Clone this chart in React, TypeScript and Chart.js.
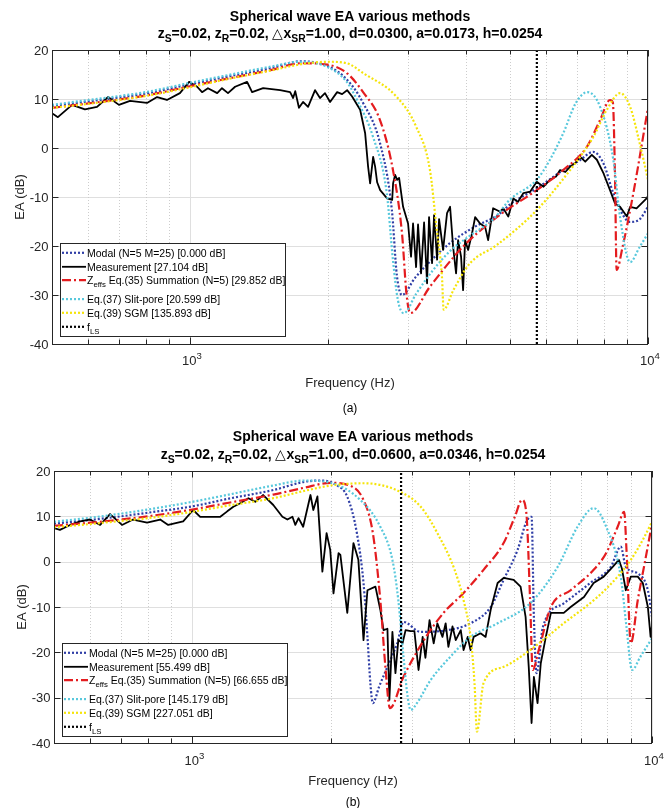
import React, { useEffect, useRef } from "react";
import { Chart, registerables } from "chart.js";
Chart.register(...registerables);

const FONT = '"Liberation Sans", Arial, Helvetica, sans-serif';

// ---------------- Panel (a) data ----------------
const A_MODAL_F = [500,600,700,800,1000,1200,1500,1750,2000,2200,2388,2600,2760,2830,2904,3100,3400,3698,4200,4700,5000,5725,6530,7100,7590,8000,8400,9140,9600,10000];
const A_MODAL_DB = [8.6,9.5,10.3,11.1,13.0,14.5,16.3,17.7,16.7,14.0,9.2,1.0,-12.7,-26.0,-30.0,-26.5,-22.5,-19.4,-16.0,-13.7,-11.5,-8.2,-4.5,-2.5,-0.8,-3.2,-9.2,-15.1,-14.5,-12.0];

const A_MEAS_F = [500,515,553,590,627,663,700,740,806,848,891,951,996,1037,1063,1095,1147,1175,1211,1255,1333,1367,1445,1574,1655,1680,1698,1730,1766,1811,1876,1923,1972,2023,2096,2149,2204,2260,2353,2413,2449,2474,2512,2537,2563,2602,2641,2695,2764,2777,2805,2834,2862,2920,2994,3039,3070,3117,3148,3196,3245,3294,3327,3378,3412,3464,3499,3570,3642,3698,3754,3811,3850,3908,3948,3988,4049,4130,4194,4300,4410,4477,4591,4755,4831,4955,5082,5200,5346,5534,5715,5915,6109,6300,6427,6600,6761,6950,7112,7295,7540,7734,7998,8262,8472,8690,8992,9141,9441,9683,9930,10000];
const A_MEAS_DB = [7.1,6.3,8.8,7.9,8.4,10.4,8.8,9.6,9.2,10.4,9.8,11.2,13.5,12.5,11.4,12.2,11.2,12.2,11.2,12.5,13.5,11.4,12.2,11.8,11.4,10.2,11.6,8.2,9.4,8.4,11.8,10.2,11.2,9.4,11.4,11.0,11.8,10.5,7.8,3.0,-3.8,-7.2,-1.8,-3.8,-7.0,-8.6,-9.3,-10.3,-10.6,-7.2,-5.5,-6.5,-6.1,-12.0,-15.4,-22.2,-15.4,-24.3,-15.6,-25.6,-15.2,-27.6,-14.1,-23.5,-13.7,-22.8,-14.5,-20.8,-13.3,-12.0,-20.1,-25.6,-18.8,-22.2,-29.0,-18.8,-20.8,-17.4,-14.1,-15.4,-16.1,-18.8,-12.3,-13.0,-12.3,-14.0,-10.3,-11.0,-9.2,-8.9,-6.9,-7.9,-6.5,-5.8,-4.5,-4.9,-3.8,-3.0,-1.8,-2.8,-1.4,-2.4,-5.2,-8.6,-11.3,-12.0,-14.0,-12.0,-12.3,-11.3,-10.3,-9.8];

const A_ZEFF_F = [500,600,700,800,1000,1200,1500,1750,2000,2200,2388,2600,2775,2904,2970,3027,3342,3940,4677,5715,6530,7350,7860,8262,8380,8472,8540,8800,9290,10000];
const A_ZEFF_DB = [8.2,9.1,9.9,10.7,12.6,14.1,15.9,17.3,17.0,15.3,11.4,5.7,-4.5,-17.4,-29.7,-33.7,-28.3,-20.2,-14.1,-8.6,-4.5,0.2,5.7,9.8,9.3,-5.9,-24.9,-20.2,-9.2,8.2];

const A_SLIT_F = [500,600,700,800,1000,1200,1500,1750,2000,2200,2317,2512,2690,2775,2844,2930,3120,3390,3700,4100,4600,5000,5715,6100,6530,6960,7370,7860,8400,8690,9140,9590,10000];
const A_SLIT_DB = [8.8,9.8,10.6,11.4,13.3,14.8,16.6,17.6,16.5,13.5,9.8,2.2,-9.2,-22.9,-31.0,-33.7,-29.7,-25.0,-21.0,-17.8,-14.5,-10.5,-6.5,-2.5,3.0,9.2,11.4,8.4,-2.4,-14.1,-23.3,-20.2,-17.4];

const A_SGM_F = [500,600,700,800,1000,1200,1500,1750,2000,2200,2388,2830,3120,3342,3453,3550,3580,3760,4080,4677,5715,6760,7590,8130,8690,9140,9590,10000];
const A_SGM_DB = [8.2,9.0,9.8,10.6,12.4,14.0,15.8,17.1,17.6,17.3,15.3,10.4,4.3,-4.5,-16.1,-26.3,-33.0,-29.0,-23.6,-19.8,-12.7,-4.5,2.2,7.8,11.2,8.4,1.0,-6.5];

const A_FLS = 5720;

// ---------------- Panel (b) data ----------------
const B_MODAL_F = [500,600,700,800,1000,1200,1500,1750,1900,2050,2173,2280,2357,2404,2440,2470,2550,2657,2790,2880,3140,3590,4029,4457,4755,5100,5330,5470,5534,5610,5790,6427,7340,8140,8551,8770,9311,9795,10000];
const B_MODAL_DB = [8.4,9.2,10.0,10.8,12.2,13.9,15.8,17.6,17.9,17.0,14.3,6.3,-4.7,-16.6,-27.0,-31.2,-27.5,-23.2,-18.0,-13.3,-15.5,-15.1,-13.6,-10.0,-4.0,2.6,8.8,9.9,-12.2,-24.6,-14.4,-9.2,-4.7,-1.1,3.3,-1.1,-2.6,-6.3,-12.2];

const B_MEAS_F = [500,515,542,570,599,630,662,703,743,797,851,886,955,1004,1040,1110,1150,1191,1228,1271,1324,1371,1426,1500,1570,1610,1651,1675,1702,1742,1807,1833,1871,1918,1959,1995,2028,2080,2099,2173,2241,2297,2357,2404,2502,2564,2606,2657,2683,2724,2766,2806,2866,2910,2985,3041,3105,3170,3214,3281,3350,3412,3501,3557,3606,3681,3741,3837,3891,3972,4029,4092,4236,4345,4457,4614,4755,5000,5177,5309,5393,5470,5534,5636,5728,5875,6026,6427,6653,7112,7465,7852,8222,8472,8600,8770,8994,9311,9550,9795,9930,10000];
const B_MEAS_DB = [7.4,7.0,8.1,8.9,9.3,8.1,10.5,8.1,9.3,8.6,9.3,8.1,8.9,11.4,9.9,9.9,9.9,11.1,12.1,12.9,14.0,13.2,14.7,12.5,9.9,9.3,9.9,8.1,9.6,7.7,14.7,11.4,14.4,-2.2,6.3,2.6,-7.0,1.9,1.5,-11.3,4.1,0.4,-17.3,-6.3,-5.5,-10.6,-15.1,-14.8,-30.5,-15.5,-24.6,-17.3,-18.0,-15.1,-15.3,-15.3,-23.9,-16.6,-21.2,-12.9,-18.0,-13.6,-16.6,-13.6,-18.8,-14.3,-17.3,-15.1,-19.5,-16.6,-19.5,-16.6,-15.8,-16.6,-10.6,-4.7,-3.6,-4.0,-5.5,-12.2,-23.2,-35.6,-25.4,-31.2,-22.4,-16.6,-11.3,-11.3,-10.0,-7.8,-4.7,-3.3,-1.1,0.4,-1.5,-6.3,-3.3,-3.3,-4.7,-10.0,-16.6,-14.0];

const B_ZEFF_F = [500,600,700,800,1000,1200,1500,1750,2000,2200,2357,2470,2564,2630,2690,2880,3190,3520,3891,4300,4755,5030,5215,5330,5430,5500,5670,6026,6653,7465,7950,8420,8700,8800,8994,9311,9670,10000];
const B_ZEFF_DB = [7.9,8.6,9.3,10.0,11.5,13.0,14.8,16.3,17.4,16.8,13.6,6.3,-8.5,-23.2,-32.3,-25.4,-17.3,-11.3,-6.9,-1.8,4.1,9.9,13.6,10.6,-8.5,-23.9,-19.5,-10.0,-6.3,-1.8,1.9,7.7,11.0,2.6,-18.0,-8.5,0.4,8.4];

const B_SLIT_F = [500,600,700,800,1000,1200,1500,1750,2000,2320,2564,2724,2806,2880,2940,2985,3080,3300,3640,4029,4614,5430,6237,6887,7465,7950,8551,8800,9050,9430,10000];
const B_SLIT_DB = [8.8,9.7,10.6,11.5,13.2,14.8,16.8,17.9,17.4,13.6,7.7,0.4,-8.5,-21.0,-29.8,-32.7,-31.2,-26.1,-21.0,-16.6,-13.6,-9.2,-1.1,7.7,11.8,7.7,-3.3,-14.4,-23.9,-21.0,-16.9];

const B_SGM_F = [500,600,700,800,1000,1200,1500,1750,2000,2360,2836,3140,3412,3720,3891,4029,4110,4160,4300,4755,5430,6427,7610,8420,8994,9550,10000];
const B_SGM_DB = [7.6,8.3,9.0,9.6,11.0,12.4,14.0,15.6,16.8,17.3,15.4,12.1,6.3,-1.8,-8.5,-16.6,-26.8,-37.5,-26.8,-23.2,-19.5,-13.6,-7.8,-3.3,0.4,4.8,8.8];

const B_FLS = 2845;

// ---------------- axes / text ----------------
const Y_TICKS = [20, 10, 0, -10, -20, -30, -40];
const X_MAJOR = [1000, 10000];
const X_MAJOR_LABELS = ["10^{3}", "10^{4}"];
const X_MINOR = [600, 700, 800, 900, 2000, 3000, 4000, 5000, 6000, 7000, 8000, 9000];

const TITLE_1 = "Spherical wave EA various methods";
const TITLE_2A = "z_{S}=0.02, z_{R}=0.02, △x_{SR}=1.00, d=0.0300, a=0.0173, h=0.0254";
const TITLE_2B = "z_{S}=0.02, z_{R}=0.02, △x_{SR}=1.00, d=0.0600, a=0.0346, h=0.0254";
const X_TITLE = "Frequency (Hz)";
const Y_TITLE = "EA (dB)";

const LEGEND_A = [
  "Modal (N=5 M=25) [0.000 dB]",
  "Measurement [27.104 dB]",
  "Z_{effs} Eq.(35) Summation (N=5) [29.852 dB]",
  "Eq.(37) Slit-pore [20.599 dB]",
  "Eq.(39) SGM [135.893 dB]",
  "f_{LS}",
];
const LEGEND_B = [
  "Modal (N=5 M=25) [0.000 dB]",
  "Measurement [55.499 dB]",
  "Z_{effs} Eq.(35) Summation (N=5) [66.655 dB]",
  "Eq.(37) Slit-pore [145.179 dB]",
  "Eq.(39) SGM [227.051 dB]",
  "f_{LS}",
];

const STYLES = [
  { color: "#2f3ea6", width: 2.2, dash: [2, 2], smooth: true },
  { color: "#000000", width: 1.8, dash: [], smooth: false },
  { color: "#e41c1f", width: 2.2, dash: [9, 3, 2, 3], smooth: true },
  { color: "#58c8dc", width: 2.2, dash: [2, 2], smooth: true },
  { color: "#f5e40a", width: 2.2, dash: [2, 2], smooth: true },
  { color: "#000000", width: 2.2, dash: [2, 2], smooth: false },
];

const LEGEND_ROWS = [0, 14, 27.3, 46.3, 60, 74];

// ---------------- rich text helpers ----------------
type Seg = { t: string; mode: string };
function parseRich(s: string): Seg[] {
  const segs: Seg[] = [];
  let buf = "";
  let i = 0;
  const push = (t: string, mode: string) => { if (t) segs.push({ t, mode }); };
  while (i < s.length) {
    const c = s[i];
    if ((c === "_" || c === "^") && s[i + 1] === "{") {
      push(buf, "n"); buf = "";
      const end = s.indexOf("}", i + 2);
      push(s.slice(i + 2, end), c === "_" ? "sub" : "sup");
      i = end + 1;
      continue;
    }
    if (c === "△") { push(buf, "n"); buf = ""; push(c, "sym"); i++; continue; }
    buf += c; i++;
  }
  push(buf, "n");
  return segs;
}
function setSegFont(ctx: any, seg: Seg, size: number, bold: boolean) {
  const small = seg.mode === "sub" || seg.mode === "sup";
  const sz = small ? Math.round(size * 0.74 * 10) / 10 : size;
  const b = bold && seg.mode !== "sym";
  ctx.font = `${b ? "bold " : ""}${sz}px ${FONT}`;
}
function richWidth(ctx: any, segs: Seg[], size: number, bold: boolean) {
  let w = 0;
  for (const s of segs) { setSegFont(ctx, s, size, bold); w += ctx.measureText(s.t).width; }
  return w;
}
function drawRich(ctx: any, text: string, x: number, y: number, size: number, bold: boolean, align: string, color: string) {
  const segs = parseRich(text);
  const w = richWidth(ctx, segs, size, bold);
  let cx = align === "center" ? x - w / 2 : align === "right" ? x - w : x;
  ctx.save();
  ctx.fillStyle = color;
  ctx.textAlign = "left";
  ctx.textBaseline = "alphabetic";
  for (const s of segs) {
    setSegFont(ctx, s, size, bold);
    const dy = s.mode === "sub" ? size * 0.3 : s.mode === "sup" ? -size * 0.45 : 0;
    ctx.fillText(s.t, cx, y + dy);
    cx += ctx.measureText(s.t).width;
  }
  ctx.restore();
}

// ---------------- panels ----------------
const PANEL_A = {
  id: "a",
  top: 0,
  height: 420,
  plot: { left: 52, right: 648, top: 50, bottom: 344 },
  series: [
    [A_MODAL_F, A_MODAL_DB],
    [A_MEAS_F, A_MEAS_DB],
    [A_ZEFF_F, A_ZEFF_DB],
    [A_SLIT_F, A_SLIT_DB],
    [A_SGM_F, A_SGM_DB],
  ],
  fls: A_FLS,
  legend: LEGEND_A,
  legendBox: { x: 60, y: 243, w: 225, h: 93 },
  title2: TITLE_2A,
  titleY: [20.5, 37.5],
  tickLabelY: 365,
  xTitleY: 387,
  yTitleX: 19,
  caption: "(a)",
  captionY: 412,
};
const PANEL_B = {
  id: "b",
  top: 420,
  height: 388,
  plot: { left: 54, right: 652, top: 471, bottom: 743 },
  series: [
    [B_MODAL_F, B_MODAL_DB],
    [B_MEAS_F, B_MEAS_DB],
    [B_ZEFF_F, B_ZEFF_DB],
    [B_SLIT_F, B_SLIT_DB],
    [B_SGM_F, B_SGM_DB],
  ],
  fls: B_FLS,
  legend: LEGEND_B,
  legendBox: { x: 62, y: 643, w: 225, h: 93 },
  title2: TITLE_2B,
  titleY: [440.5, 458.5],
  tickLabelY: 765,
  xTitleY: 785,
  yTitleX: 21,
  caption: "(b)",
  captionY: 806,
};

function makeDecor(p: any) {
  const Y = (v: number) => v - p.top;
  const line = (ctx: any, x1: number, y1: number, x2: number, y2: number) => {
    ctx.beginPath(); ctx.moveTo(x1, y1); ctx.lineTo(x2, y2); ctx.stroke();
  };
  return {
    id: "decor_" + p.id,
    beforeDatasetsDraw(chart: any) {
      const ctx = chart.ctx;
      const { left, right, top, bottom } = chart.chartArea;
      const xs = chart.scales.x, ys = chart.scales.y;
      ctx.save();
      ctx.lineWidth = 1;
      ctx.strokeStyle = "#dfdfdf";
      for (const v of Y_TICKS) {
        const y = Math.round(ys.getPixelForValue(v)) + 0.5;
        line(ctx, left, y, right, y);
      }
      for (const v of X_MAJOR) {
        const x = Math.round(xs.getPixelForValue(v)) + 0.5;
        line(ctx, x, top, x, bottom);
      }
      ctx.strokeStyle = "#cdcdcd";
      ctx.setLineDash([1, 2]);
      for (const v of X_MINOR) {
        const x = Math.round(xs.getPixelForValue(v)) + 0.5;
        line(ctx, x, top, x, bottom);
      }
      ctx.restore();
    },
    afterDatasetsDraw(chart: any) {
      const ctx = chart.ctx;
      const { left, right, top, bottom } = chart.chartArea;
      const xs = chart.scales.x, ys = chart.scales.y;
      ctx.save();
      ctx.strokeStyle = "#262626";
      ctx.lineWidth = 1;
      ctx.strokeRect(Math.round(left) + 0.5, Math.round(top) + 0.5, Math.round(right - left) - 1, Math.round(bottom - top));
      for (const v of X_MAJOR) {
        const x = Math.round(xs.getPixelForValue(v)) + 0.5;
        line(ctx, x, bottom, x, bottom - 6.5);
        line(ctx, x, top, x, top + 6.5);
      }
      for (const v of X_MINOR) {
        const x = Math.round(xs.getPixelForValue(v)) + 0.5;
        line(ctx, x, bottom, x, bottom - 4.5);
        line(ctx, x, top, x, top + 4.5);
      }
      for (const v of Y_TICKS) {
        const y = Math.round(ys.getPixelForValue(v)) + 0.5;
        line(ctx, left, y, left + 6.5, y);
        line(ctx, right, y, right - 6.5, y);
      }
      ctx.restore();
    },
    afterDraw(chart: any) {
      const ctx = chart.ctx;
      const { left, right, top, bottom } = chart.chartArea;
      const xs = chart.scales.x, ys = chart.scales.y;
      const cx = (left + right) / 2;
      // titles
      drawRich(ctx, TITLE_1, cx, Y(p.titleY[0]), 14, true, "center", "#000");
      drawRich(ctx, p.title2, cx, Y(p.titleY[1]), 14, true, "center", "#000");
      // y tick labels
      for (const v of Y_TICKS) {
        const y = ys.getPixelForValue(v);
        drawRich(ctx, String(v), left - 3.5, y + 4.6, 13, false, "right", "#262626");
      }
      // x tick labels
      X_MAJOR.forEach((v, i) => {
        const x = xs.getPixelForValue(v);
        drawRich(ctx, X_MAJOR_LABELS[i], x + 2, Y(p.tickLabelY), 13, false, "center", "#262626");
      });
      // axis titles
      drawRich(ctx, X_TITLE, cx, Y(p.xTitleY), 13, false, "center", "#262626");
      ctx.save();
      ctx.translate(p.yTitleX + 4.5, (top + bottom) / 2);
      ctx.rotate(-Math.PI / 2);
      drawRich(ctx, Y_TITLE, 0, 0, 13, false, "center", "#262626");
      ctx.restore();
      // caption
      drawRich(ctx, p.caption, cx, Y(p.captionY), 12, false, "center", "#000");
      // legend
      const b = p.legendBox;
      const by = Y(b.y);
      ctx.save();
      ctx.fillStyle = "#ffffff";
      ctx.fillRect(b.x, by, b.w, b.h);
      ctx.strokeStyle = "#262626";
      ctx.lineWidth = 1;
      ctx.strokeRect(b.x + 0.5, by + 0.5, b.w, b.h);
      p.legend.forEach((lab: string, i: number) => {
        const st = STYLES[i];
        const ry = by + 9.8 + LEGEND_ROWS[i];
        ctx.save();
        ctx.strokeStyle = st.color;
        ctx.lineWidth = st.width;
        ctx.setLineDash(st.dash);
        ctx.lineCap = "butt";
        line(ctx, b.x + 2, ry, b.x + 26, ry);
        ctx.restore();
        drawRich(ctx, lab, b.x + 27, ry + 3.8, 10.5, false, "left", "#000");
      });
      ctx.restore();
    },
  };
}

function Panel({ p }: { p: any }) {
  const ref = useRef<HTMLCanvasElement | null>(null);
  useEffect(() => {
    const canvas = ref.current;
    if (!canvas) return;
    const datasets: any[] = p.series.map((s: any, i: number) => {
      const st = STYLES[i];
      const [fs, dbs] = s;
      return {
        label: p.legend[i],
        data: fs.map((f: number, k: number) => ({ x: f, y: dbs[k] })),
        borderColor: st.color,
        borderWidth: st.width,
        borderDash: st.dash,
        borderCapStyle: "butt",
        borderJoinStyle: "round",
        pointRadius: 0,
        fill: false,
        tension: 0,
        cubicInterpolationMode: st.smooth ? "monotone" : "default",
        order: 6 - i,
      };
    });
    const fst = STYLES[5];
    datasets.push({
      label: p.legend[5],
      data: [{ x: p.fls, y: -40 }, { x: p.fls, y: 20 }],
      borderColor: fst.color,
      borderWidth: fst.width,
      borderDash: fst.dash,
      borderCapStyle: "butt",
      pointRadius: 0,
      fill: false,
      order: 0,
    });
    const chart = new Chart(canvas, {
      type: "line",
      data: { datasets },
      options: {
        responsive: false,
        maintainAspectRatio: false,
        animation: false,
        events: [],
        devicePixelRatio: 1,
        layout: {
          padding: {
            left: p.plot.left,
            right: 671 - p.plot.right,
            top: p.plot.top - p.top,
            bottom: p.top + p.height - p.plot.bottom,
          },
        },
        scales: {
          x: { type: "logarithmic", min: 500, max: 10000, display: false },
          y: { type: "linear", min: -40, max: 20, display: false },
        },
        plugins: {
          legend: { display: false },
          tooltip: { enabled: false },
          title: { display: false },
        },
      } as any,
      plugins: [makeDecor(p)],
    });
    return () => chart.destroy();
  }, [p]);
  return (
    <canvas
      ref={ref}
      width={671}
      height={p.height}
      style={{ position: "absolute", left: 0, top: p.top, width: 671, height: p.height }}
    />
  );
}

export default function App() {
  return (
    <div style={{ position: "absolute", left: 0, top: 0, width: 671, height: 808, background: "#ffffff", overflow: "hidden" }}>
      <Panel p={PANEL_A} />
      <Panel p={PANEL_B} />
    </div>
  );
}
